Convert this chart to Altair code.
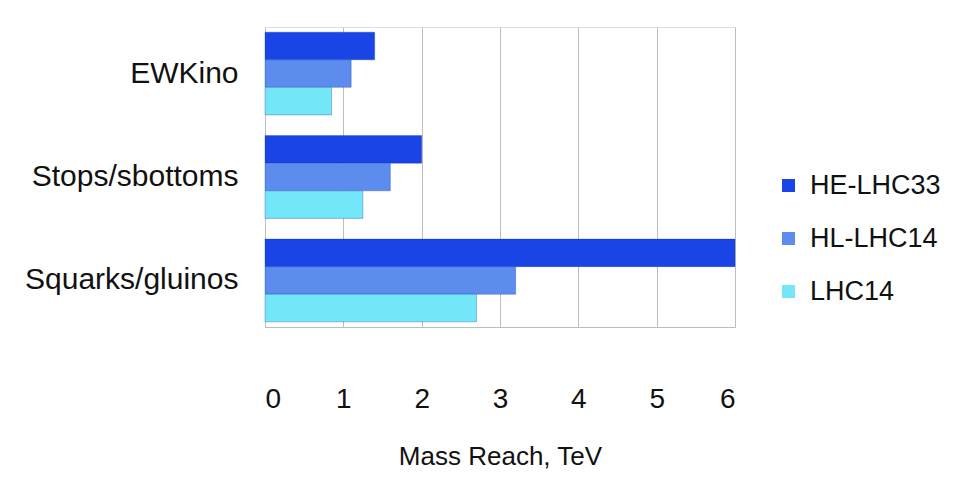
import altair as alt
import pandas as pd

categories = ["EWKino", "Stops/sbottoms", "Squarks/gluinos"]
series = ["HE-LHC33", "HL-LHC14", "LHC14"]
he_lhc33 = [1.4, 2.0, 6.0]
hl_lhc14 = [1.1, 1.6, 3.2]
lhc14 = [0.85, 1.25, 2.7]
colors = ["#1a45e6", "#5b8cee", "#73e6f7"]

rows = []
for i, c in enumerate(categories):
    for s, vals in zip(series, [he_lhc33, hl_lhc14, lhc14]):
        rows.append({"category": c, "series": s, "value": vals[i]})
df = pd.DataFrame(rows)

chart = alt.Chart(df).mark_bar(stroke="#0b2a9e", strokeWidth=0.3).encode(
    y=alt.Y("category:N", sort=categories, title=None,
            scale=alt.Scale(paddingInner=0.2, paddingOuter=0.05),
            axis=alt.Axis(labelFontSize=30, labelColor="#111", labelFont="Liberation Sans",
                          labelPadding=27, labelLimit=400, ticks=False, domain=False)),
    yOffset=alt.YOffset("series:N", sort=series),
    x=alt.X("value:Q", title="Mass Reach, TeV",
            scale=alt.Scale(domain=[0, 6], nice=False),
            axis=alt.Axis(values=[0, 1, 2, 3, 4, 5, 6], format="d", labelFontSize=28,
                          labelFont="Liberation Sans", labelColor="#111", labelPadding=58,
                          titleFontSize=26, titleFont="Liberation Sans", titleFontWeight="normal",
                          titleColor="#111", titlePadding=30, grid=True, gridColor="#bdbdbd",
                          ticks=False, domainColor="#bdbdbd")),
    color=alt.Color("series:N", sort=series,
                    scale=alt.Scale(domain=series, range=colors),
                    legend=alt.Legend(title=None, orient="none", legendX=510, legendY=145,
                                      symbolType="square", symbolSize=170, symbolStrokeWidth=0,
                                      labelFontSize=27, labelFont="Liberation Sans",
                                      labelColor="#111", rowPadding=25, symbolOffset=0,
                                      labelOffset=8, labelLimit=300)),
).properties(
    width=470, height=300,
    padding={"left": 257, "top": 19, "right": 231, "bottom": 142},
    autosize=alt.AutoSizeParams(type="none"),
).configure_view(stroke=None).configure(background="white")

chart.save("out.html", embed_options={"renderer": "svg", "actions": False})
